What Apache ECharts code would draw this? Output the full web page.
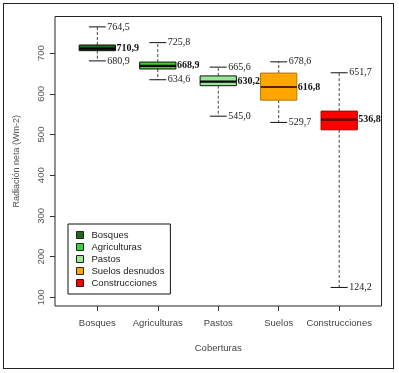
<!DOCTYPE html>
<html>
<head>
<meta charset="utf-8">
<script src="https://cdn.jsdelivr.net/npm/echarts@6/dist/echarts.min.js"></script>
<style>
  html, body { margin: 0; padding: 0; background: #fff; }
  #frame { position: absolute; left: 3px; top: 3px; width: 391px; height: 366px; box-sizing: border-box; border: 1px solid #222; }
  #chart { position: absolute; left: 0; top: 0; width: 399px; height: 373px; }
</style>
</head>
<body>
<div id="frame"></div>
<div id="chart"></div>
<script>
// categorías y estadísticos de cada caja
const categories = ['Bosques', 'Agriculturas', 'Pastos', 'Suelos', 'Construcciones'];
const legendNames = ['Bosques', 'Agriculturas', 'Pastos', 'Suelos desnudos', 'Construcciones'];
const whiskerLow = [680.9, 634.6, 545.0, 529.7, 124.2];
const lowerQ = [706.0, 661.0, 620.0, 584.5, 511.5];
const medians = [710.9, 668.9, 630.2, 616.8, 536.8];
const upperQ = [720.0, 678.0, 644.0, 651.0, 557.5];
const whiskerHigh = [764.5, 725.8, 665.6, 678.6, 651.7];
const yTicks = [100, 200, 300, 400, 500, 600, 700];

const fillColors = ['#1b6b1b', '#33d633', '#99e899', '#ffa500', '#ff0000'];
const edgeColors = ['#111', '#111', '#111', '#b3770c', '#a30000'];
const medianColors = ['#000', '#000', '#000', '#4d2a00', '#4d0000'];

const fmt = v => v.toFixed(1).replace('.', ',');

const chart = echarts.init(document.getElementById('chart'));

const renderBox = (params, api) => {
  const x = api.value(0);
  const i = x - 1;
  const unit = api.size([1, 0])[0];
  const halfBox = unit * 0.3;
  const halfCap = unit * 0.14;
  const pLow = api.coord([x, api.value(1)]);
  const pQ1 = api.coord([x, api.value(2)]);
  const pMed = api.coord([x, api.value(3)]);
  const pQ3 = api.coord([x, api.value(4)]);
  const pHigh = api.coord([x, api.value(5)]);
  const cx = pMed[0];
  const dash = { stroke: '#444', lineWidth: 1, lineDash: [3, 2] };
  const solid = { stroke: '#111', lineWidth: 1 };
  const serif = 'Liberation Serif, Times New Roman, serif';
  return {
    type: 'group',
    children: [
      { type: 'line', shape: { x1: cx, y1: pQ3[1], x2: cx, y2: pHigh[1] }, style: dash },
      { type: 'line', shape: { x1: cx, y1: pQ1[1], x2: cx, y2: pLow[1] }, style: dash },
      { type: 'line', shape: { x1: cx - halfCap, y1: pHigh[1], x2: cx + halfCap, y2: pHigh[1] }, style: solid },
      { type: 'line', shape: { x1: cx - halfCap, y1: pLow[1], x2: cx + halfCap, y2: pLow[1] }, style: solid },
      {
        type: 'rect',
        shape: { x: cx - halfBox, y: pQ3[1], width: halfBox * 2, height: pQ1[1] - pQ3[1] },
        style: { fill: fillColors[i], stroke: edgeColors[i], lineWidth: 1 }
      },
      { type: 'line', shape: { x1: cx - halfBox, y1: pMed[1], x2: cx + halfBox, y2: pMed[1] }, style: { stroke: medianColors[i], lineWidth: 2.2 } },
      {
        type: 'text',
        style: { x: cx + halfCap + 1.5, y: pHigh[1], text: fmt(api.value(5)), fill: '#222', font: '10px ' + serif, textVerticalAlign: 'middle' }
      },
      {
        type: 'text',
        style: { x: cx + halfCap + 1.5, y: pLow[1], text: fmt(api.value(1)), fill: '#222', font: '10px ' + serif, textVerticalAlign: 'middle' }
      },
      {
        type: 'text',
        style: { x: cx + halfBox + 1, y: pMed[1], text: fmt(api.value(3)), fill: '#111', font: 'bold 10px ' + serif, textVerticalAlign: 'middle' }
      }
    ]
  };
};

const series = categories.map((c, i) => ({
  name: legendNames[i],
  type: 'custom',
  renderItem: renderBox,
  itemStyle: { color: fillColors[i] },
  encode: { x: 0, y: [1, 2, 3, 4, 5] },
  data: [[i + 1, whiskerLow[i], lowerQ[i], medians[i], upperQ[i], whiskerHigh[i]]],
  silent: true,
  animation: false
}));

const sans = 'Liberation Sans, Arial, sans-serif';

chart.setOption({
  animation: false,
  grid: { left: 55, top: 16.5, right: 17.5, bottom: 67, show: true, borderColor: '#222', borderWidth: 1 },
  legend: {
    orient: 'vertical',
    left: 68,
    top: 224,
    padding: [5, 6, 5, 8],
    borderColor: '#111',
    borderWidth: 1,
    icon: 'rect',
    itemWidth: 7,
    itemHeight: 7,
    itemGap: 0,
    itemStyle: { borderColor: '#222', borderWidth: 1 },
    textStyle: { fontFamily: sans, fontSize: 9.5, color: '#222', lineHeight: 12, padding: [0, 0, 0, 3] },
    data: legendNames
  },
  xAxis: {
    type: 'value',
    min: 0.3,
    max: 5.7,
    axisLine: { show: false },
    splitLine: { show: false },
    axisTick: { customValues: [1, 2, 3, 4, 5], length: 5, lineStyle: { color: '#333' } },
    axisLabel: {
      customValues: [1, 2, 3, 4, 5],
      formatter: v => categories[Math.round(v) - 1] || '',
      margin: 12,
      fontFamily: sans,
      fontSize: 9.5,
      color: '#444'
    },
    name: 'Coberturas',
    nameLocation: 'middle',
    nameGap: 37,
    nameTextStyle: { fontFamily: sans, fontSize: 9.5, color: '#444' }
  },
  yAxis: {
    type: 'value',
    min: 78.6,
    max: 790,
    axisLine: { show: false },
    splitLine: { show: false },
    axisTick: { show: true, customValues: yTicks, length: 5, lineStyle: { color: '#333' } },
    axisLabel: {
      customValues: yTicks,
      rotate: 90,
      margin: 9,
      fontFamily: sans,
      fontSize: 9.5,
      color: '#555'
    },
    name: 'Radiación neta (Wm-2)',
    nameLocation: 'middle',
    nameRotate: 90,
    nameGap: 34,
    nameTextStyle: { fontFamily: sans, fontSize: 9, color: '#555' }
  },
  series: series
});
</script>
</body>
</html>
